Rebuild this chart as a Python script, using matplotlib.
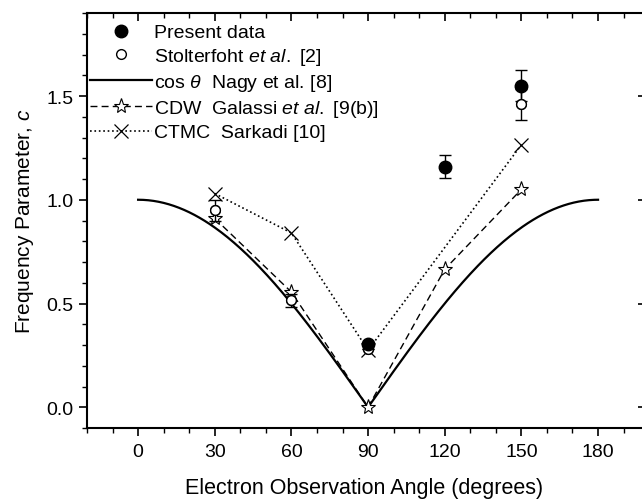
import numpy as np
import matplotlib
matplotlib.use('Agg')
import matplotlib.pyplot as plt
from matplotlib.ticker import MultipleLocator

plt.rcParams['font.family'] = ['Liberation Sans', 'DejaVu Sans']
plt.rcParams['mathtext.fontset'] = 'custom'
plt.rcParams['mathtext.rm'] = 'Liberation Sans'
plt.rcParams['mathtext.it'] = 'Liberation Sans:italic'

# present data (filled circles)
ang_present = [90, 120, 150]
c_present = [0.305, 1.16, 1.55]
err_present = [0.0, 0.055, 0.075]

# Stolterfoht et al. (open circles)
ang_stolt = [30, 60, 90, 150]
c_stolt = [0.95, 0.515, 0.28, 1.46]
err_stolt = [0.05, 0.03, 0.0, 0.075]

# CDW Galassi et al. (stars)
ang_cdw = [30, 60, 90, 120, 150]
c_cdw = [0.91, 0.555, 0.0, 0.665, 1.05]

# CTMC Sarkadi (crosses)
ang_ctmc = [30, 60, 90, 150]
c_ctmc = [1.03, 0.84, 0.275, 1.265]

# cos theta curve
theta = np.linspace(0, 180, 361)
c_cos = np.abs(np.cos(np.radians(theta)))

fig = plt.figure(figsize=(6.42, 5.02), dpi=100)
ax = fig.add_axes([87/642, 73/502, 1 - 87/642, (429 - 14)/502])

l_cos, = ax.plot(theta, c_cos, '-', color='black', lw=1.6)
l_cdw, = ax.plot(ang_cdw, c_cdw, '--', color='black', lw=1.0, dashes=(5, 3),
                 marker='*', ms=11, mfc='white', mec='black', mew=0.8)
l_ctmc, = ax.plot(ang_ctmc, c_ctmc, ':', color='black', lw=1.2,
                  marker='x', ms=10, mew=0.9)
e_stolt = ax.errorbar(ang_stolt, c_stolt, yerr=err_stolt, fmt='o', color='black',
                      ms=7, mfc='white', mec='black', mew=1.0, ecolor='black',
                      elinewidth=1.0, capsize=4, capthick=1.0)
e_pres = ax.errorbar(ang_present, c_present, yerr=err_present, fmt='o', color='black',
                     ms=9, ecolor='black', elinewidth=1.0, capsize=4, capthick=1.0)
ax.plot(ang_stolt, c_stolt, 'o', ms=7, mfc='white', mec='black', mew=1.0)

ax.set_xlim(-20, 197.2)
ax.set_ylim(-0.1, 1.9)
ax.xaxis.set_major_locator(MultipleLocator(30))
ax.xaxis.set_minor_locator(MultipleLocator(10))
ax.yaxis.set_major_locator(MultipleLocator(0.5))
ax.yaxis.set_minor_locator(MultipleLocator(0.1))
ax.set_xticks([0, 30, 60, 90, 120, 150, 180])
ax.set_yticks([0.0, 0.5, 1.0, 1.5])

ax.tick_params(axis='both', which='major', direction='out', length=6, width=1.2,
               labelsize=14)
ax.tick_params(axis='both', which='minor', direction='out', length=3.5, width=1.0)
ax.tick_params(axis='x', which='both', top=True)
ax.tick_params(axis='x', which='major', pad=5)
ax.spines['right'].set_visible(False)
for s in ['left', 'bottom', 'top']:
    ax.spines[s].set_linewidth(1.5)

# top ticks point inward
for t in ax.xaxis.get_major_ticks() + ax.xaxis.get_minor_ticks():
    t.tick2line.set_marker(matplotlib.lines.TICKDOWN)

# right side marks at major y only
ax2 = ax.twinx()
ax2.set_ylim(ax.get_ylim())
ax2.set_yticks([0.0, 0.5, 1.0, 1.5])
ax2.tick_params(axis='y', direction='in', length=3, width=1.2, labelright=False)
for s in ax2.spines.values():
    s.set_visible(False)

ax.set_xlabel('Electron Observation Angle (degrees)', fontsize=15.5, labelpad=12)
ax.set_ylabel('Frequency Parameter, $c$', fontsize=15, labelpad=8)

ax.legend([e_pres.lines[0], e_stolt.lines[0], l_cos, l_cdw, l_ctmc],
          ['Present data',
           r'Stolterfoht $\mathit{et\ al.}$ [2]',
           r'cos $\mathit{\theta}$  Nagy et al. [8]',
           r'CDW  Galassi $\mathit{et\ al.}$ [9(b)]',
           'CTMC  Sarkadi [10]'],
          loc='upper left', bbox_to_anchor=(-0.005, 0.988), frameon=False,
          fontsize=14, handlelength=3.2, handletextpad=0.1,
          labelspacing=0.25, borderpad=0.3, borderaxespad=0)

fig.savefig('out.png', dpi=100)
